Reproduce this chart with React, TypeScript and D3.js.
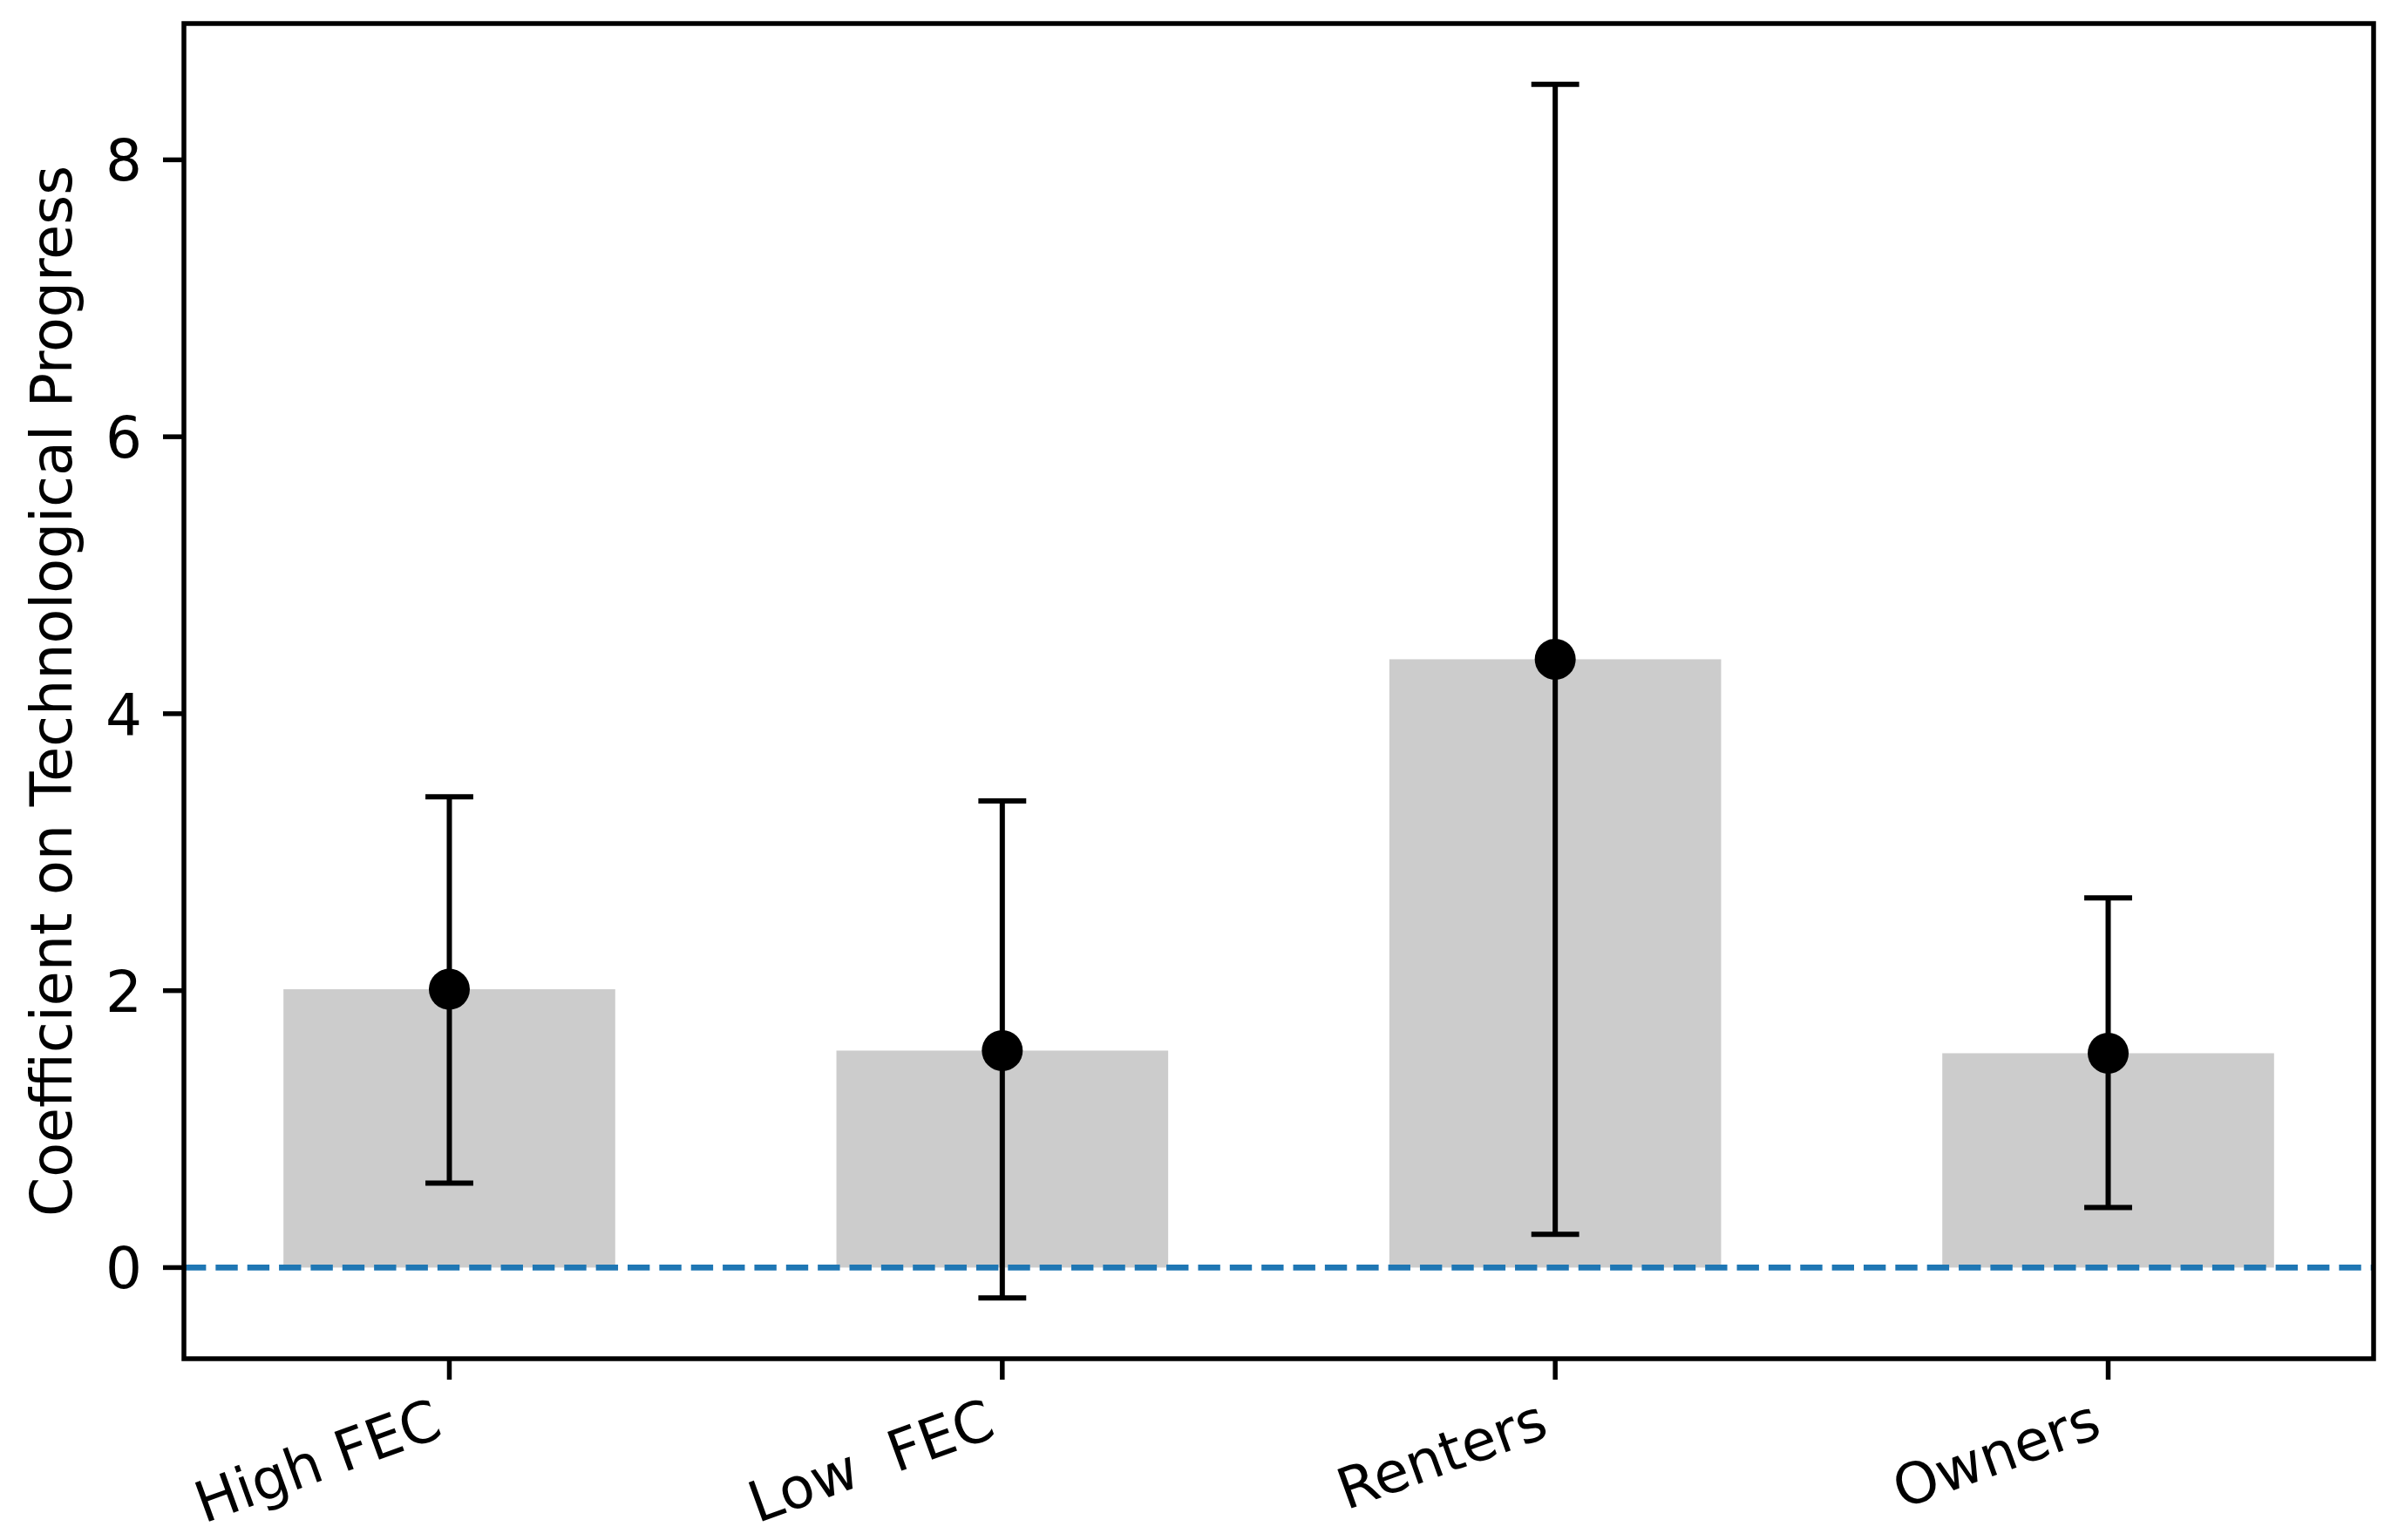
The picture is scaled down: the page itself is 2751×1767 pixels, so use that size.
import * as d3 from "d3";
import { useEffect } from "react";

// groups and estimates
const categories = ["High FEC", "Low  FEC", "Renters", "Owners"];
const coefficients = [2.01, 1.567, 4.393, 1.548];
const lowerBounds = [0.61, -0.22, 0.24, 0.434];
const upperBounds = [3.4, 3.37, 8.546, 2.67];
const yTicks = [0, 2, 4, 6, 8];
const yLabel = "Coefficient on Technological Progress";

const W = 2751;
const H = 1767;
const plot = { left: 211, right: 2723, top: 27, bottom: 1559 };
const FONT = "'DejaVu Sans', sans-serif";
const BAR_WIDTH = 0.6;
const PT = 6.86; // px per point in the original export

export default function App() {
    useEffect(() => {
        document.body.style.margin = "0";
        document.body.style.overflow = "hidden";
    }, []);

    // matplotlib-ish 5% margins
    const n = categories.length;
    const xPad = (n - 1 + BAR_WIDTH) * 0.05;
    const x = d3.scaleLinear()
        .domain([-BAR_WIDTH / 2 - xPad, n - 1 + BAR_WIDTH / 2 + xPad])
        .range([plot.left, plot.right]);

    const yMin = d3.min(lowerBounds)!;
    const yMax = d3.max(upperBounds)!;
    const yPad = (yMax - yMin) * 0.05;
    const y = d3.scaleLinear()
        .domain([yMin - yPad, yMax + yPad])
        .range([plot.bottom, plot.top]);

    const tickLen = 3.5 * PT;
    const tickPad = 3.5 * PT;
    const capHalf = 4 * PT;
    const rot = 20;
    const xFont = 65;
    const yFont = 66;
    const rad = (rot * Math.PI) / 180;

    return (
        <svg width={W} height={H} style={{ position: "absolute", left: 0, top: 0, display: "block", background: "#fff" }}>
            <rect x={0} y={0} width={W} height={H} fill="#fff" />

            {/* bars */}
            {coefficients.map((v, i) => (
                <rect
                    key={"bar" + i}
                    x={x(i - BAR_WIDTH / 2)}
                    y={y(Math.max(v, 0))}
                    width={x(i + BAR_WIDTH / 2) - x(i - BAR_WIDTH / 2)}
                    height={Math.abs(y(v) - y(0))}
                    fill="#cccccc"
                />
            ))}

            {/* zero line */}
            <line
                x1={plot.left}
                x2={plot.right}
                y1={y(0)}
                y2={y(0)}
                stroke="#1f77b4"
                strokeWidth={1 * PT}
                strokeDasharray={`${3.7 * PT} ${1.6 * PT}`}
            />

            {/* error bars */}
            {coefficients.map((v, i) => (
                <g key={"err" + i} stroke="#000" strokeWidth={6}>
                    <line x1={x(i)} x2={x(i)} y1={y(lowerBounds[i])} y2={y(upperBounds[i])} />
                    <line x1={x(i) - capHalf} x2={x(i) + capHalf} y1={y(lowerBounds[i])} y2={y(lowerBounds[i])} />
                    <line x1={x(i) - capHalf} x2={x(i) + capHalf} y1={y(upperBounds[i])} y2={y(upperBounds[i])} />
                </g>
            ))}

            {/* point estimates */}
            {coefficients.map((v, i) => (
                <circle key={"pt" + i} cx={x(i)} cy={y(v)} r={23.5} fill="#000" />
            ))}

            {/* frame */}
            <rect
                x={plot.left}
                y={plot.top}
                width={plot.right - plot.left}
                height={plot.bottom - plot.top}
                fill="none"
                stroke="#000"
                strokeWidth={0.8 * PT}
            />

            {/* y axis */}
            {yTicks.map(t => (
                <g key={"yt" + t}>
                    <line x1={plot.left - tickLen} x2={plot.left} y1={y(t)} y2={y(t)} stroke="#000" strokeWidth={0.8 * PT} />
                    <text
                        x={plot.left - tickLen - tickPad}
                        y={y(t) + 0.3645 * yFont}
                        textAnchor="end"
                        fontFamily={FONT}
                        fontSize={yFont}
                        fill="#000"
                    >
                        {t}
                    </text>
                </g>
            ))}

            {/* x axis */}
            {categories.map((c, i) => {
                const tx = x(i);
                const top = plot.bottom + tickLen + tickPad - 6;
                const bx = tx - 0.236 * xFont * Math.sin(rad);
                const by = top + 0.76 * xFont * Math.cos(rad);
                return (
                    <g key={"xt" + i}>
                        <line x1={tx} x2={tx} y1={plot.bottom} y2={plot.bottom + tickLen} stroke="#000" strokeWidth={0.8 * PT} />
                        <text
                            x={bx}
                            y={by}
                            transform={`rotate(${-rot}, ${bx}, ${by})`}
                            textAnchor="end"
                            fontFamily={FONT}
                            fontSize={xFont}
                            fill="#000"
                            style={{ whiteSpace: "pre" }}
                        >
                            {c}
                        </text>
                    </g>
                );
            })}

            {/* y label */}
            <text
                x={82}
                y={(plot.top + plot.bottom) / 2}
                transform={`rotate(-90, 82, ${(plot.top + plot.bottom) / 2})`}
                textAnchor="middle"
                fontFamily={FONT}
                fontSize={65}
                fill="#000"
            >
                {yLabel}
            </text>
        </svg>
    );
}
